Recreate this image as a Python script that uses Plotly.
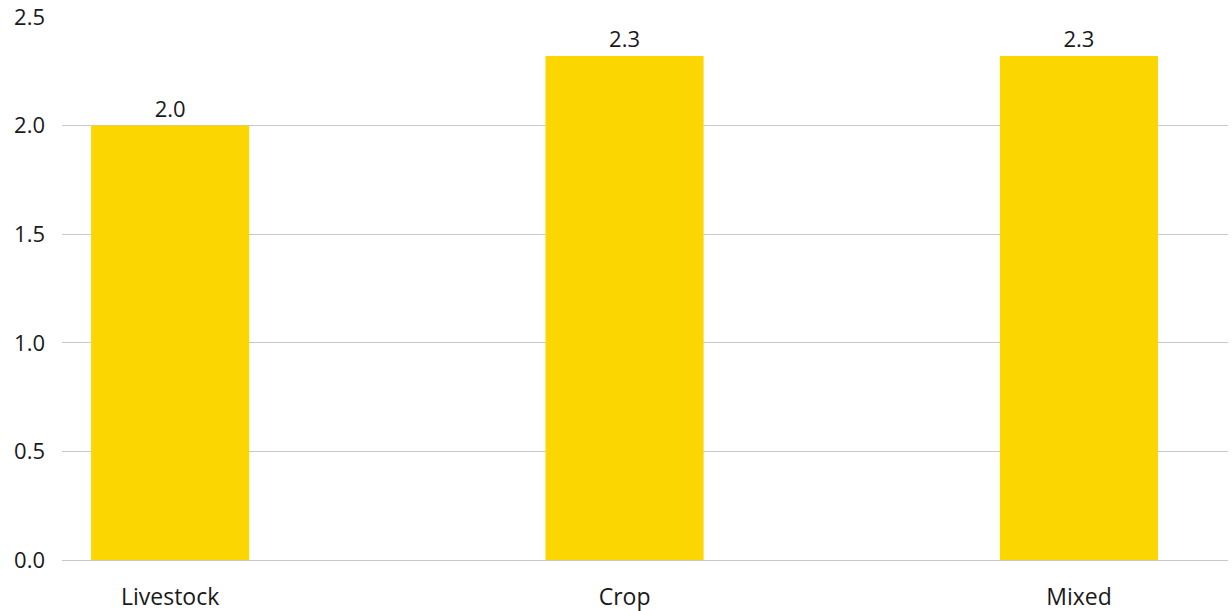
import plotly.graph_objects as go

# Farm types and their values
categories = ["Livestock", "Crop", "Mixed"]
values = [2.0, 2.32, 2.32]
y_ticks = [0.0, 0.5, 1.0, 1.5, 2.0, 2.5]

x_pos = list(range(len(categories)))

fig = go.Figure(
    go.Bar(
        x=x_pos,
        y=values,
        width=0.348,
        marker=dict(color="#FCD600", line=dict(width=0)),
        text=values,
        texttemplate="%{y:.1f}",
        textposition="outside",
        cliponaxis=False,
        textfont=dict(size=22, color="#1a1a1a"),
    )
)

fig.update_layout(
    width=1232,
    height=611,
    margin=dict(l=62, r=4, t=17, b=51),
    paper_bgcolor="white",
    plot_bgcolor="white",
    font=dict(family="'Open Sans', Lato, sans-serif", size=22, color="#1a1a1a"),
    showlegend=False,
    xaxis=dict(
        range=[-0.238, 2.328],
        tickmode="array",
        tickvals=x_pos,
        ticktext=categories,
        showgrid=False,
        zeroline=False,
        showline=False,
        ticks="",
        automargin=False,
        ticklabelstandoff=21,
        tickfont=dict(size=23),
    ),
    yaxis=dict(
        range=[0, 2.5],
        tickmode="array",
        tickvals=y_ticks,
        ticktext=[f"{v:.1f}" for v in y_ticks],
        showgrid=True,
        gridcolor="#c8c8c8",
        gridwidth=1,
        zeroline=True,
        zerolinecolor="#c8c8c8",
        zerolinewidth=1,
        showline=False,
        ticks="",
        automargin=False,
        ticklabelstandoff=16,
        tickfont=dict(size=22),
    ),
)

fig.write_html("out.html")
